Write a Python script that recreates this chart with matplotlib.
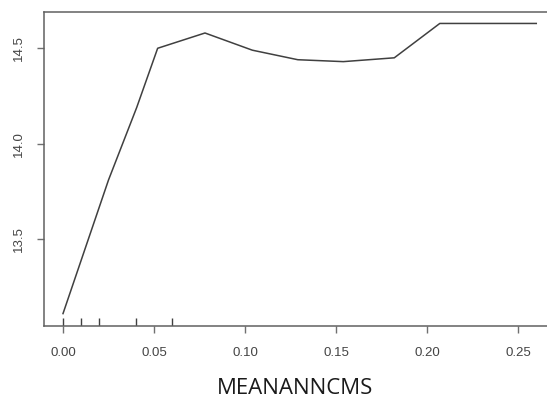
import matplotlib
matplotlib.use("Agg")
import matplotlib.pyplot as plt

x_vals = [0.000, 0.025, 0.0405, 0.052, 0.078, 0.104, 0.129, 0.154, 0.182, 0.207, 0.260]
y_vals = [13.11, 13.81, 14.19, 14.50, 14.58, 14.49, 14.44, 14.43, 14.45, 14.63, 14.63]
rug_x = [0.00, 0.01, 0.02, 0.04, 0.06]
x_ticks = [0.00, 0.05, 0.10, 0.15, 0.20, 0.25]
x_ticklabels = ["0.00", "0.05", "0.10", "0.15", "0.20", "0.25"]
y_ticks = [13.5, 14.0, 14.5]
y_ticklabels = ["13.5", "14.0", "14.5"]
x_label = "MEANANNCMS"

fig = plt.figure(figsize=(5.47, 4.0), dpi=100)
ax = fig.add_axes([44/547, 74/400, 1 - 44/547, (326-12)/400])
ax.plot(x_vals, y_vals, color="#404040", lw=1.1)
ax.vlines(rug_x, 0, 0.027, transform=ax.get_xaxis_transform(), color="#404040", lw=1.0)

ax.set_xlim(-0.01044, 0.2659)
ax.set_ylim(13.045, 14.69)
ax.set_xticks(x_ticks)
ax.set_xticklabels(x_ticklabels, fontfamily="Liberation Sans", fontsize=9.5, color="#444444")
ax.set_yticks(y_ticks)
ax.set_yticklabels(y_ticklabels, fontfamily="Liberation Sans", fontsize=9.5, color="#444444",
                   rotation=90, va="center")
ax.tick_params(axis="x", length=5, width=1, color="#707070", pad=10)
ax.tick_params(axis="y", length=5, width=1, color="#707070", pad=9)
for s in ["left", "bottom", "top"]:
    ax.spines[s].set_color("#606060")
    ax.spines[s].set_linewidth(1.1)
ax.spines["right"].set_visible(False)
ax.set_xlabel(x_label, fontfamily="Open Sans", fontsize=16, color="#1a1a1a", labelpad=14)

fig.savefig("out.png", dpi=100)
